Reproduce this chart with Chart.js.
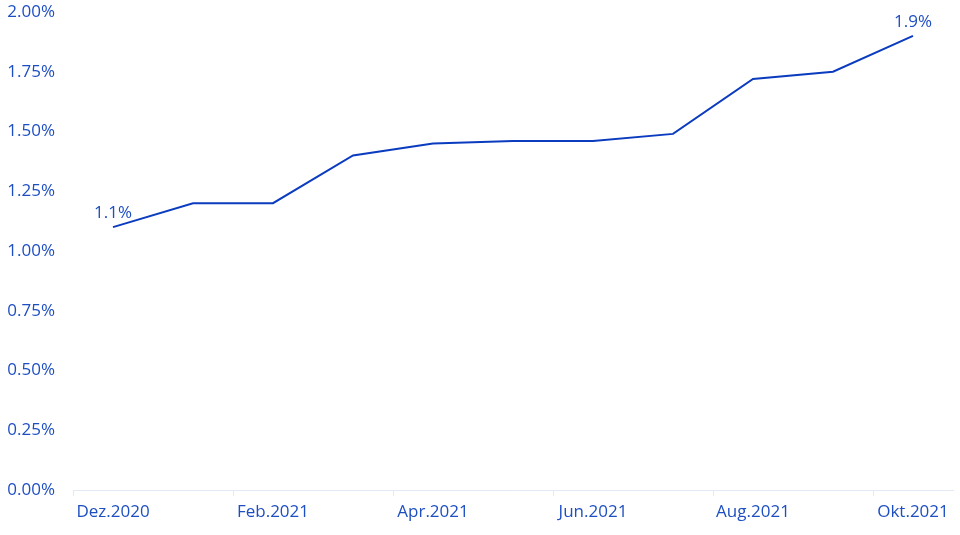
<!DOCTYPE html>
<html>
<head>
<meta charset="utf-8">
<script src="https://cdn.jsdelivr.net/npm/chart.js@4/dist/chart.umd.min.js"></script>
<style>
html,body{margin:0;padding:0;background:#fff;}
#wrap{width:960px;height:535px;}
</style>
</head>
<body>
<div id="wrap"><canvas id="c" width="960" height="535"></canvas></div>
<script>
const categories = ['Dez.2020','Jan.2021','Feb.2021','Mrz.2021','Apr.2021','Mai.2021','Jun.2021','Jul.2021','Aug.2021','Sep.2021','Okt.2021'];
const values = [1.10, 1.20, 1.20, 1.40, 1.45, 1.46, 1.46, 1.49, 1.72, 1.75, 1.90];
const yTicks = [0, 0.25, 0.5, 0.75, 1.0, 1.25, 1.5, 1.75, 2.0];
const labelledPoints = [0, 10];

const TEXT = '#1e4fc2';
const LINE = '#0b3cbf';
const AXIS = '#e3eaf6';
const FONT = {family: "'Open Sans', sans-serif", size: 17};

const pointLabels = {
  id: 'pointLabels',
  afterDatasetsDraw(chart) {
    const ctx = chart.ctx;
    const meta = chart.getDatasetMeta(0);
    ctx.save();
    ctx.font = "17px 'Open Sans', sans-serif";
    ctx.fillStyle = TEXT;
    ctx.textAlign = 'center';
    ctx.textBaseline = 'bottom';
    labelledPoints.forEach(i => {
      const p = meta.data[i];
      ctx.fillText(values[i].toFixed(1) + '%', p.x, p.y - 5);
    });
    ctx.restore();
  }
};

new Chart(document.getElementById('c'), {
  type: 'line',
  data: {
    labels: categories,
    datasets: [{
      data: values,
      borderColor: LINE,
      borderWidth: 2,
      pointRadius: 0,
      tension: 0,
      fill: false,
      clip: false
    }]
  },
  options: {
    responsive: false,
    animation: false,
    devicePixelRatio: 1,
    layout: {padding: {top: 0, right: 7, left: 0, bottom: 0}},
    plugins: {legend: {display: false}, tooltip: {enabled: false}},
    scales: {
      x: {
        offset: true,
        afterFit(scale) { scale.height = 45; },
        grid: {
          offset: true, drawOnChartArea: false, drawTicks: true, tickLength: 6, lineWidth: 1,
          color: ctx => (ctx.index % 2 === 0 ? AXIS : 'rgba(0,0,0,0)')
        },
        border: {display: true, color: AXIS, width: 1},
        ticks: {
          autoSkip: false, maxRotation: 0, color: TEXT, font: FONT, padding: 6,
          callback: (v, i) => (i % 2 === 0 ? categories[i] : '')
        }
      },
      y: {
        min: 0, max: 2,
        afterBuildTicks(scale) { scale.ticks = yTicks.map(v => ({value: v})); },
        afterFit(scale) { scale.width = 73; scale.paddingTop = 12; scale.paddingBottom = 0; },
        grid: {display: false, drawTicks: false},
        border: {display: false},
        ticks: {color: TEXT, font: FONT, padding: 18, callback: v => v.toFixed(2) + '%'}
      }
    }
  },
  plugins: [pointLabels]
});
</script>
</body>
</html>
